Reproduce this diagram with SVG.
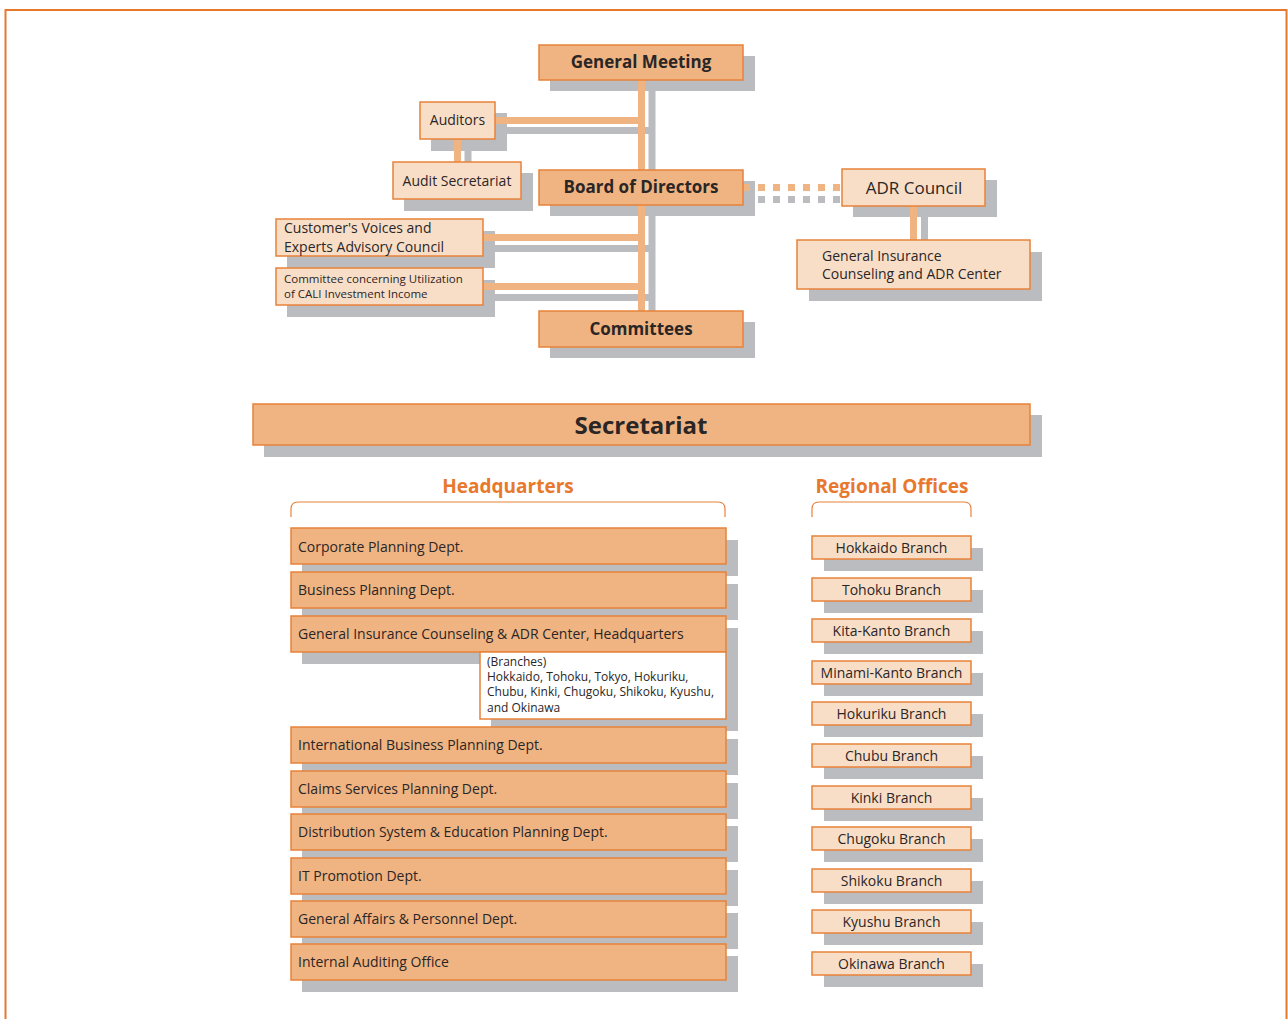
<svg xmlns="http://www.w3.org/2000/svg" width="1288" height="1019" viewBox="0 0 1288 1019">
<style>
text{font-family:"Open Sans","Noto Sans","Liberation Sans",sans-serif;fill:#2b2626}
.sh{fill:#bbbcc0}
.dk{fill:#f0b482;stroke:#e8823a;stroke-width:1.5}
.lt{fill:#f9dec7;stroke:#e8823a;stroke-width:1.5}
.wh{fill:#ffffff;stroke:#e8823a;stroke-width:1.5}
.b{font-weight:bold;font-size:17px;text-anchor:middle}
.c{text-anchor:middle}
.hq{font-size:14px}
.rg{font-size:14px;text-anchor:middle}
.ttl{font-weight:bold;font-size:19px;text-anchor:middle;fill:#e8782c}
.oc{stroke:#f0b482;stroke-width:7;fill:none}
.gc{stroke:#bbbcc0;stroke-width:7;fill:none}
.br{fill:none;stroke:#e8823a;stroke-width:1.2}
.bx{font-size:12px}
</style>
<rect x="5.5" y="10" width="1281" height="1030" fill="none" stroke="#e8782c" stroke-width="2"/>

<g id="shadows">
<rect class="sh" x="550" y="56" width="205" height="35"/>
<rect class="sh" x="431" y="113" width="76" height="38"/>
<rect class="sh" x="404" y="173" width="129" height="38"/>
<rect class="sh" x="550" y="181" width="205" height="35"/>
<rect class="sh" x="287" y="231" width="208" height="37"/>
<rect class="sh" x="287" y="280" width="208" height="37"/>
<rect class="sh" x="550" y="322" width="205" height="36"/>
<rect class="sh" x="853" y="180" width="144" height="37"/>
<rect class="sh" x="809" y="252" width="233" height="49"/>
<rect class="sh" x="264" y="415" width="778" height="42"/>
<rect class="sh" x="302" y="540" width="436" height="36"/>
<rect class="sh" x="302" y="584" width="436" height="36"/>
<rect class="sh" x="302" y="628" width="436" height="36"/>
<rect class="sh" x="491" y="664" width="247" height="67"/>
<rect class="sh" x="302" y="739" width="436" height="36"/>
<rect class="sh" x="302" y="783" width="436" height="36"/>
<rect class="sh" x="302" y="826" width="436" height="36"/>
<rect class="sh" x="302" y="870" width="436" height="36"/>
<rect class="sh" x="302" y="913" width="436" height="36"/>
<rect class="sh" x="302" y="956" width="436" height="36"/>
<rect class="sh" x="824" y="548" width="159" height="23"/>
<rect class="sh" x="824" y="590" width="159" height="23"/>
<rect class="sh" x="824" y="631" width="159" height="23"/>
<rect class="sh" x="824" y="673" width="159" height="23"/>
<rect class="sh" x="824" y="714" width="159" height="23"/>
<rect class="sh" x="824" y="756" width="159" height="23"/>
<rect class="sh" x="824" y="798" width="159" height="23"/>
<rect class="sh" x="824" y="839" width="159" height="23"/>
<rect class="sh" x="824" y="881" width="159" height="23"/>
<rect class="sh" x="824" y="922" width="159" height="23"/>
<rect class="sh" x="824" y="964" width="159" height="23"/>
</g>

<g id="connectors">
<path class="gc" d="M652 91V311M507 130.5H652M468 150V173M495 248.5H652M495 297.5H652M924.5 217V252"/>
<path class="gc" d="M754 199.5H842" stroke-dasharray="7 8" stroke-dashoffset="-4"/>
<path class="oc" d="M641.5 80V311M495 120.5H641.5M457.5 139V162M483 237.5H641.5M483 286.5H641.5M913.5 206V240"/>
<path class="oc" d="M743 187.5H842" stroke-dasharray="7 8"/>
<path class="br" d="M291 517V509Q291 502 298 502H718Q725 502 725 509V517"/>
<path class="br" d="M812 517V509Q812 502 819 502H964Q971 502 971 509V517"/>
</g>

<g id="general-meeting"><rect class="dk" x="539" y="45" width="204" height="35"/><text class="b" x="641" y="68">General Meeting</text></g>
<g id="auditors"><rect class="lt" x="420" y="102" width="75" height="37"/><text class="c" x="457.5" y="125" font-size="14">Auditors</text></g>
<g id="audit-secretariat"><rect class="lt" x="393" y="162" width="128" height="37"/><text class="c" x="457" y="186" font-size="14">Audit Secretariat</text></g>
<g id="board"><rect class="dk" x="539" y="170" width="204" height="35"/><text class="b" x="641" y="193">Board of Directors</text></g>
<g id="customers-voices"><rect class="lt" x="276" y="219" width="207" height="37"/><text x="284" y="233" font-size="14">Customer's Voices and</text><text x="284" y="252" font-size="14">Experts Advisory Council</text></g>
<g id="cali-committee"><rect class="lt" x="276" y="268" width="207" height="37"/><text x="284" y="283" font-size="11.5">Committee concerning Utilization</text><text x="284" y="298" font-size="11.5">of CALI Investment Income</text></g>
<g id="committees"><rect class="dk" x="539" y="311" width="204" height="36"/><text class="b" x="641" y="335">Committees</text></g>
<g id="adr-council"><rect class="lt" x="842" y="169" width="143" height="37"/><text class="c" x="914" y="194" font-size="17">ADR Council</text></g>
<g id="gi-center"><rect class="lt" x="797" y="240" width="233" height="49"/><text x="822" y="261" font-size="14">General Insurance</text><text x="822" y="279" font-size="14">Counseling and ADR Center</text></g>

<g id="secretariat"><rect class="dk" x="253" y="404" width="777" height="41"/><text x="641" y="434" font-weight="bold" font-size="24" text-anchor="middle">Secretariat</text></g>

<g id="headquarters-title"><text class="ttl" x="508" y="493">Headquarters</text></g>
<g id="regional-title"><text class="ttl" x="892" y="493">Regional Offices</text></g>

<g id="hq-corporate"><rect class="dk" x="291" y="528" width="435" height="36"/><text class="hq" x="298" y="552">Corporate Planning Dept.</text></g>
<g id="hq-business"><rect class="dk" x="291" y="572" width="435" height="36"/><text class="hq" x="298" y="595">Business Planning Dept.</text></g>
<g id="hq-gic"><rect class="dk" x="291" y="616" width="435" height="36"/><text class="hq" x="298" y="639">General Insurance Counseling &amp; ADR Center, Headquarters</text></g>
<g id="hq-branches"><rect class="wh" x="480" y="652" width="246" height="67"/>
<text class="bx" x="487" y="666">(Branches)</text>
<text class="bx" x="487" y="681">Hokkaido, Tohoku, Tokyo, Hokuriku,</text>
<text class="bx" x="487" y="696">Chubu, Kinki, Chugoku, Shikoku, Kyushu,</text>
<text class="bx" x="487" y="712">and Okinawa</text></g>
<g id="hq-international"><rect class="dk" x="291" y="727" width="435" height="36"/><text class="hq" x="298" y="750">International Business Planning Dept.</text></g>
<g id="hq-claims"><rect class="dk" x="291" y="771" width="435" height="36"/><text class="hq" x="298" y="794">Claims Services Planning Dept.</text></g>
<g id="hq-distribution"><rect class="dk" x="291" y="814" width="435" height="36"/><text class="hq" x="298" y="837">Distribution System &amp; Education Planning Dept.</text></g>
<g id="hq-it"><rect class="dk" x="291" y="858" width="435" height="36"/><text class="hq" x="298" y="881">IT Promotion Dept.</text></g>
<g id="hq-general-affairs"><rect class="dk" x="291" y="901" width="435" height="36"/><text class="hq" x="298" y="924">General Affairs &amp; Personnel Dept.</text></g>
<g id="hq-internal-audit"><rect class="dk" x="291" y="944" width="435" height="36"/><text class="hq" x="298" y="967">Internal Auditing Office</text></g>

<g id="rg-hokkaido"><rect class="lt" x="812" y="536" width="159" height="23"/><text class="rg" x="891.5" y="553">Hokkaido Branch</text></g>
<g id="rg-tohoku"><rect class="lt" x="812" y="578" width="159" height="23"/><text class="rg" x="891.5" y="595">Tohoku Branch</text></g>
<g id="rg-kita-kanto"><rect class="lt" x="812" y="619" width="159" height="23"/><text class="rg" x="891.5" y="636">Kita-Kanto Branch</text></g>
<g id="rg-minami-kanto"><rect class="lt" x="812" y="661" width="159" height="23"/><text class="rg" x="891.5" y="678">Minami-Kanto Branch</text></g>
<g id="rg-hokuriku"><rect class="lt" x="812" y="702" width="159" height="23"/><text class="rg" x="891.5" y="719">Hokuriku Branch</text></g>
<g id="rg-chubu"><rect class="lt" x="812" y="744" width="159" height="23"/><text class="rg" x="891.5" y="761">Chubu Branch</text></g>
<g id="rg-kinki"><rect class="lt" x="812" y="786" width="159" height="23"/><text class="rg" x="891.5" y="803">Kinki Branch</text></g>
<g id="rg-chugoku"><rect class="lt" x="812" y="827" width="159" height="23"/><text class="rg" x="891.5" y="844">Chugoku Branch</text></g>
<g id="rg-shikoku"><rect class="lt" x="812" y="869" width="159" height="23"/><text class="rg" x="891.5" y="886">Shikoku Branch</text></g>
<g id="rg-kyushu"><rect class="lt" x="812" y="910" width="159" height="23"/><text class="rg" x="891.5" y="927">Kyushu Branch</text></g>
<g id="rg-okinawa"><rect class="lt" x="812" y="952" width="159" height="23"/><text class="rg" x="891.5" y="969">Okinawa Branch</text></g>
</svg>
